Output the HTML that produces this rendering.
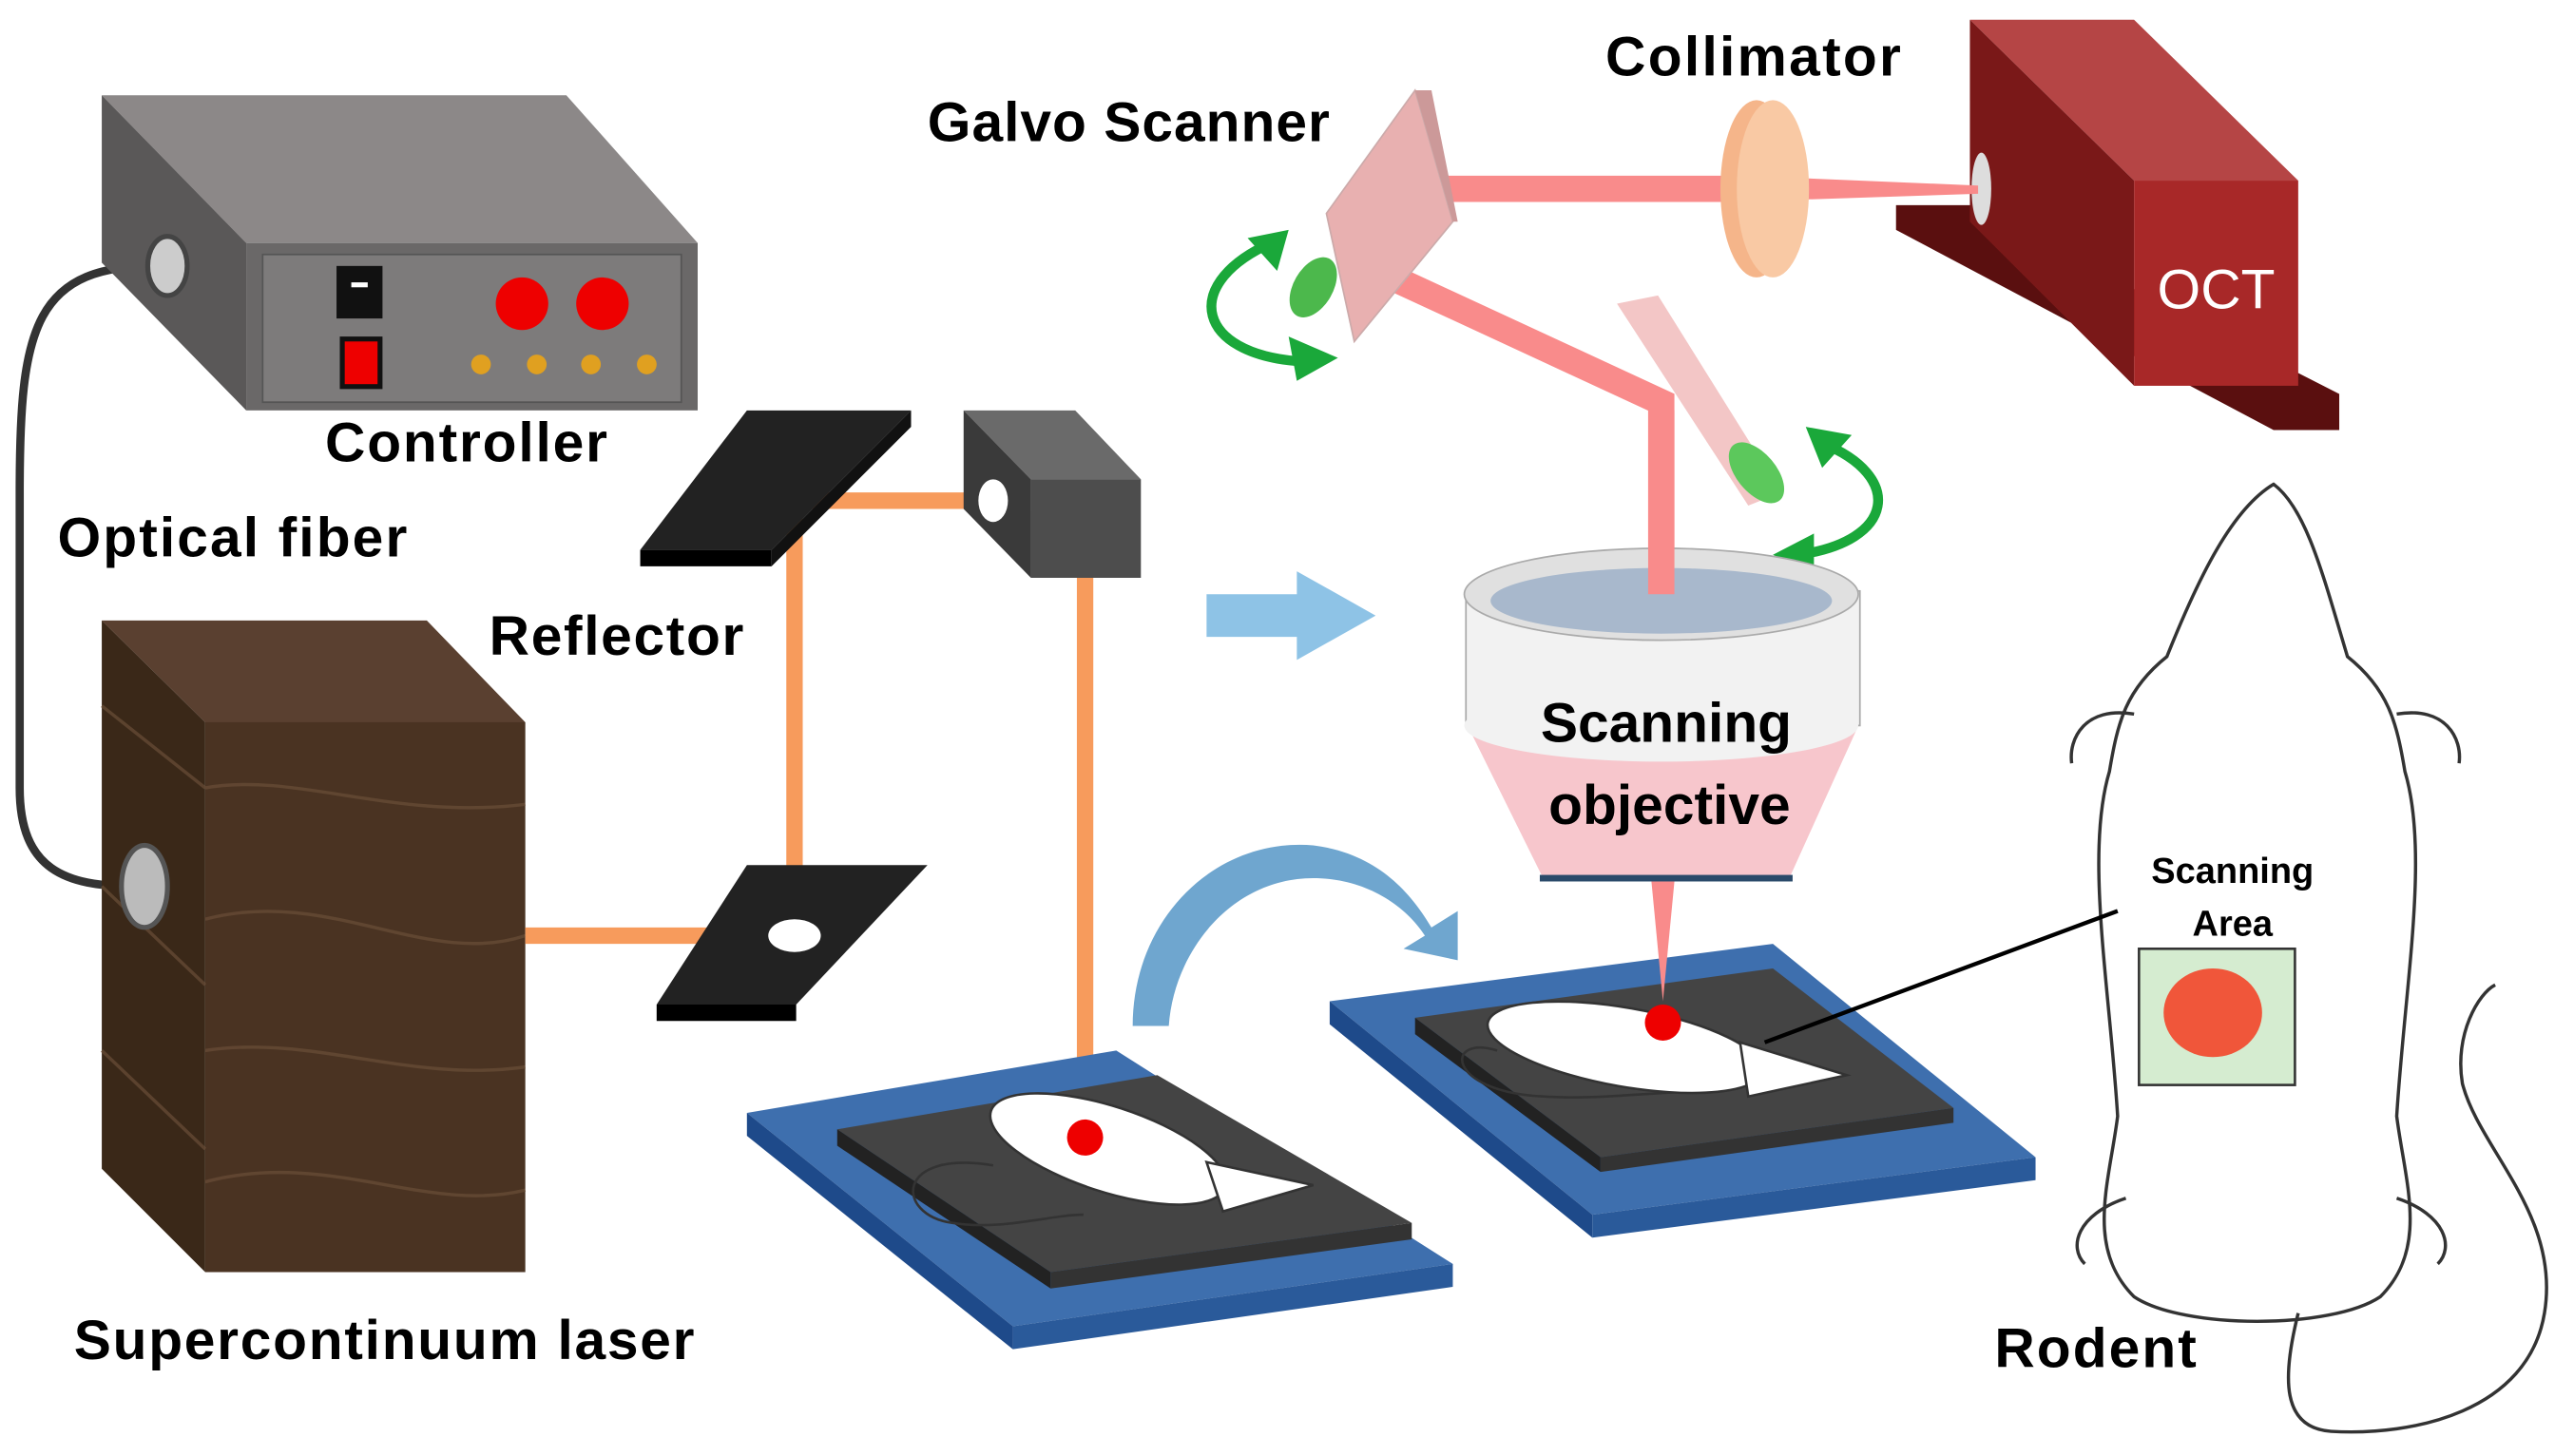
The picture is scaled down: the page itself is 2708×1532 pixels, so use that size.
<!DOCTYPE html>
<html><head><meta charset="utf-8"><style>html,body{margin:0;padding:0;background:#fff}svg{display:block}</style></head>
<body>
<svg width="2708" height="1532" viewBox="0 0 1568 887" xmlns="http://www.w3.org/2000/svg" font-family="Liberation Sans, sans-serif">
<rect width="1568" height="887" fill="#fff"/>
<path d="M100,162 C20,160 12,200 12,300 L12,480 C12,530 40,540 82,540" fill="none" stroke="#333" stroke-width="5"/>
<polygon points="62,58 345,58 425,148 150,148" fill="#8c8888"/>
<polygon points="62,58 150,148 150,250 62,160" fill="#5a5858"/>
<rect x="150" y="148" width="275" height="102" fill="#6a6868"/>
<rect x="160" y="155" width="255" height="90" fill="#7d7b7b" stroke="#555" stroke-width="1"/>
<ellipse cx="102" cy="162" rx="12" ry="18" fill="#ccc" stroke="#444" stroke-width="3"/>
<rect x="205" y="162" width="28" height="32" fill="#111"/><rect x="214" y="172" width="10" height="3" fill="#fff"/>
<rect x="207" y="205" width="26" height="32" fill="#111"/><rect x="210" y="208" width="20" height="26" fill="#e00"/>
<circle cx="318" cy="185" r="16" fill="#e00"/><circle cx="367" cy="185" r="16" fill="#e00"/>
<g fill="#e0a020"><circle cx="293" cy="222" r="6"/><circle cx="327" cy="222" r="6"/><circle cx="360" cy="222" r="6"/><circle cx="394" cy="222" r="6"/></g>
<polygon points="62,378 260,378 320,440 125,440" fill="#5a4030"/>
<polygon points="62,378 125,440 125,775 62,712" fill="#3a2818"/>
<rect x="125" y="440" width="195" height="335" fill="#4a3322"/>
<g stroke="#6a4e38" stroke-width="2" fill="none" opacity="0.7">
<path d="M125,480 C180,470 240,500 320,490"/><path d="M125,560 C200,540 260,590 320,570"/><path d="M125,640 C190,630 250,660 320,650"/><path d="M125,720 C200,700 260,740 320,725"/>
<path d="M62,430 L125,480"/><path d="M62,540 L125,600"/><path d="M62,640 L125,700"/></g>
<ellipse cx="88" cy="540" rx="14" ry="25" fill="#bbb" stroke="#555" stroke-width="3"/>
<g stroke="#f79b5c" stroke-width="10" fill="none">
<polyline points="320,570 484,570 484,305 605,305"/>
<line x1="661" y1="350" x2="661" y2="690"/></g>
<polygon points="455,250 555,250 470,335 390,335" fill="#222"/><polygon points="390,335 470,335 470,345 390,345" fill="#000"/><polygon points="470,335 555,250 555,260 470,345" fill="#111"/>
<polygon points="455,527 565,527 485,612 400,612" fill="#222"/><polygon points="400,612 485,612 485,622 400,622" fill="#000"/>
<ellipse cx="484" cy="570" rx="16" ry="10" fill="#fff"/>
<polygon points="587,250 655,250 695,292 628,292" fill="#6a6a6a"/>
<polygon points="587,250 628,292 628,352 587,310" fill="#3a3a3a"/>
<rect x="628" y="292" width="67" height="60" fill="#4d4d4d"/>
<ellipse cx="605" cy="305" rx="9" ry="13" fill="#fff"/>
<polygon points="455,678 680,640 885,770 617,808" fill="#3e6fae"/>
<polygon points="455,678 617,808 617,822 455,692" fill="#1e4a8a"/><polygon points="617,808 885,770 885,784 617,822" fill="#2a5a9a"/>
<polygon points="510,688 705,655 860,745 640,775" fill="#444"/><polygon points="510,688 640,775 640,785 510,698" fill="#222"/><polygon points="640,775 860,745 860,755 640,785" fill="#333"/>
<polygon points="810,610 1080,575 1240,705 970,740" fill="#3e6fae"/>
<polygon points="810,610 970,740 970,754 810,624" fill="#1e4a8a"/><polygon points="970,740 1240,705 1240,719 970,754" fill="#2a5a9a"/>
<polygon points="862,620 1080,590 1190,675 975,705" fill="#444"/><polygon points="862,620 975,705 975,714 862,630" fill="#222"/><polygon points="975,705 1190,675 1190,684 975,714" fill="#333"/>
<!-- small mice -->
<g fill="#fff" stroke="#333" stroke-width="1.5">
<path d="M605,710 C545,700 545,740 580,745 C610,750 640,740 660,740" fill="none"/>
<ellipse cx="675" cy="700" rx="75" ry="26" transform="rotate(18 675 700)"/>
<path d="M735,708 L800,722 L745,738 Z"/>
<path d="M912,640 C880,630 880,665 940,668 C970,670 1000,666 1030,665" fill="none"/>
<ellipse cx="990" cy="638" rx="85" ry="24" transform="rotate(10 990 638)"/>
<path d="M1060,635 L1125,655 L1065,668 Z"/>
</g>
<circle cx="661" cy="693" r="11" fill="#e00"/>
<polygon points="735,362 790,362 790,348 838,375 790,402 790,388 735,388" fill="#8ec3e6"/>
<path d="M690,625 C690,560 740,510 800,515 C840,520 860,545 872,565 L888,555 L888,585 L855,578 L868,570 C855,550 830,535 800,535 C750,535 715,580 712,625 Z" fill="#6fa6cf"/>
<polygon points="1155,125 1200,125 1425,240 1425,262 1385,262 1155,140" fill="#5a0f0f"/>
<polygon points="1200,12 1300,12 1400,110 1300,110" fill="#b54545"/>
<polygon points="1200,12 1300,110 1300,235 1200,135" fill="#7a1818"/>
<rect x="1300" y="110" width="100" height="125" fill="#a82828"/>
<text x="1350" y="188" font-size="34" fill="#fff" text-anchor="middle">OCT</text>
<ellipse cx="1207" cy="115" rx="6" ry="22" fill="#ddd"/>
<polygon points="1085,108 1205,113 1205,118 1085,122" fill="#f98b8b"/>
<line x1="880" y1="115" x2="1062" y2="115" stroke="#f98b8b" stroke-width="16"/>
<polyline points="850,170 1012,245 1012,362" fill="none" stroke="#f98b8b" stroke-width="16"/>
<ellipse cx="1070" cy="115" rx="22" ry="54" fill="#f5b58a"/>
<ellipse cx="1080" cy="115" rx="22" ry="54" fill="#f9c9a4"/>
<polygon points="808,130 862,55 885,135 825,208" fill="#e8b0b0" stroke="#caa" stroke-width="1"/>
<polygon points="862,55 872,55 888,135 885,135" fill="#c99"/>
<ellipse cx="800" cy="175" rx="12" ry="20" fill="#4cb84c" transform="rotate(30 800 175)"/>
<polygon points="985,185 1010,180 1085,300 1065,308" fill="#f3c6c6"/>
<ellipse cx="1070" cy="288" rx="12" ry="22" fill="#5cc85c" transform="rotate(-40 1070 288)"/>
<g fill="none" stroke="#1aa83a" stroke-width="6">
<path d="M770,150 C720,175 730,215 790,220"/><path d="M1110,270 C1160,290 1155,330 1095,338"/></g>
<g fill="#1aa83a"><polygon points="785,140 760,145 778,165"/><polygon points="815,218 785,205 790,232"/><polygon points="1100,260 1128,265 1110,285"/><polygon points="1080,338 1105,325 1105,350"/></g>
<polygon points="893,440 1133,440 1090,535 940,535" fill="#f7c6cc"/>
<rect x="893" y="360" width="240" height="82" fill="#f2f2f2" stroke="#aaa" stroke-width="1"/>
<ellipse cx="1012" cy="442" rx="120" ry="22" fill="#f2f2f2"/>
<ellipse cx="1012" cy="362" rx="120" ry="28" fill="#e0e0e0" stroke="#aaa"/>
<ellipse cx="1012" cy="366" rx="104" ry="20" fill="#a8b8cc"/>
<line x1="1012" y1="250" x2="1012" y2="362" stroke="#f98b8b" stroke-width="16"/>
<rect x="938" y="533" width="154" height="4" fill="#2a4a6a"/>
<polygon points="1006,537 1020,537 1013,610" fill="#f98b8b"/>
<circle cx="1013" cy="623" r="11" fill="#e00"/>
<text x="1015" y="452" font-size="34" font-weight="bold" text-anchor="middle">Scanning</text>
<text x="1017" y="502" font-size="34" font-weight="bold" text-anchor="middle">objective</text>
<g fill="#fff" stroke="#333" stroke-width="2">
<path d="M1385,295 C1360,310 1340,350 1320,400 C1295,420 1290,440 1285,470 C1270,520 1285,600 1290,680 C1285,720 1270,760 1300,790 C1330,810 1420,810 1450,790 C1480,760 1465,720 1460,680 C1465,600 1480,520 1465,470 C1460,440 1455,420 1430,400 C1415,350 1405,310 1385,295 Z"/>
<path d="M1300,435 C1270,430 1260,450 1262,465 M1460,435 C1490,430 1500,450 1498,465" fill="none"/>
<path d="M1295,730 C1265,740 1260,760 1270,770 M1460,730 C1490,740 1495,760 1485,770" fill="none"/>
<path d="M1400,800 C1390,840 1390,870 1420,872 C1470,875 1540,860 1550,800 C1560,740 1510,700 1500,660 C1495,630 1510,605 1520,600" fill="none"/>
</g>
<rect x="1303" y="578" width="95" height="83" fill="#d5ecd0" stroke="#333" stroke-width="1.5"/>
<ellipse cx="1348" cy="617" rx="30" ry="27" fill="#f0563a"/>
<line x1="1290" y1="555" x2="1075" y2="635" stroke="#000" stroke-width="2.5"/>
<g font-weight="bold" fill="#000">
<text x="565" y="86" font-size="34" textLength="245">Galvo Scanner</text>
<text x="978" y="46" font-size="34" textLength="180">Collimator</text>
<text x="198" y="281" font-size="34" textLength="172">Controller</text>
<text x="35" y="339" font-size="34" textLength="213">Optical fiber</text>
<text x="298" y="399" font-size="34" textLength="155">Reflector</text>
<text x="45" y="828" font-size="34" textLength="378">Supercontinuum laser</text>
<text x="1215" y="833" font-size="34" textLength="123">Rodent</text>
<text x="1360" y="538" font-size="22" text-anchor="middle">Scanning</text>
<text x="1360" y="570" font-size="22" text-anchor="middle">Area</text>
</g>
</svg>
</body></html>
